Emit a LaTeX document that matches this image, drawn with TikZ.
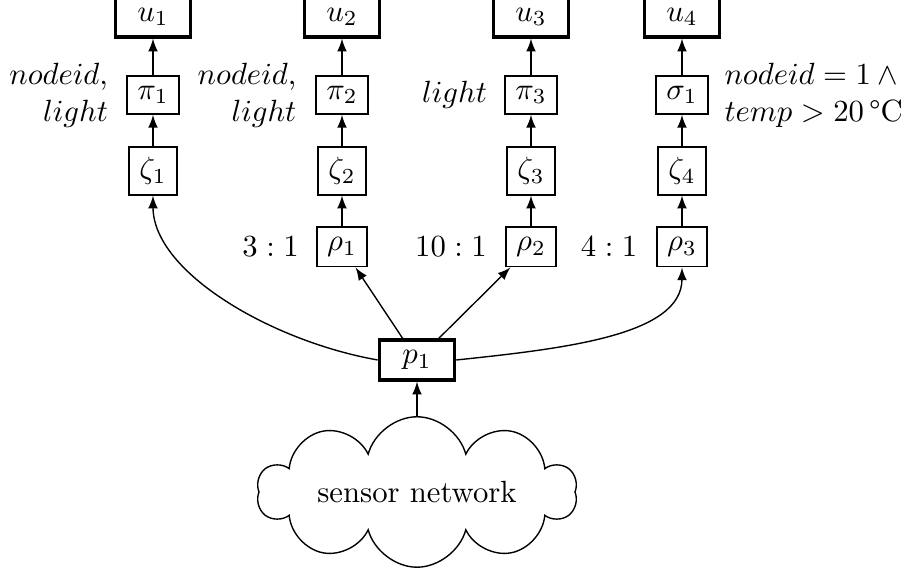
\documentclass[tikz,border=0pt]{standalone}
\usetikzlibrary{shapes.symbols,arrows}
\begin{document}
\begin{tikzpicture}[x=0.3257pt,y=-0.3257pt,>=latex,
  opbox/.style={draw,line width=0.45pt,inner sep=3.33pt},
  endbox/.style={draw,line width=1.1pt,minimum width=24.5pt,minimum height=13pt,inner sep=3.33pt},
  flow/.style={->,line width=0.45pt},
  lab/.style={inner sep=0pt}]
\useasboundingbox (0,0) rectangle (907,574);

% sinks
\node[endbox] (u1) at (153,17) {$u_1$};
\node[endbox] (u2) at (342,17) {$u_2$};
\node[endbox] (u3) at (531,17) {$u_3$};
\node[endbox] (u4) at (682,17) {$u_4$};

% operator chains
\node[opbox] (pi1) at (153,95) {$\pi_1$};
\node[opbox] (z1)  at (153,171) {$\zeta_1$};

\node[opbox] (pi2) at (342,95) {$\pi_2$};
\node[opbox] (z2)  at (342,171) {$\zeta_2$};
\node[opbox] (r1)  at (342,247) {$\rho_1$};

\node[opbox] (pi3) at (531,95) {$\pi_3$};
\node[opbox] (z3)  at (531,171) {$\zeta_3$};
\node[opbox] (r2)  at (531,247) {$\rho_2$};

\node[opbox] (s1)  at (682,95) {$\sigma_1$};
\node[opbox] (z4)  at (682,171) {$\zeta_4$};
\node[opbox] (r3)  at (682,247) {$\rho_3$};

% source and network
\node[endbox] (p1) at (417,360) {$p_1$};
\node[cloud,draw,cloud puffs=10,cloud ignores aspect,minimum width=104pt,minimum height=49pt,line width=0.45pt] (net) at (417,492) {sensor network};

% operator parameters
\node[lab,anchor=east,align=right] (l1) at ([xshift=-5.8pt]pi1.west) {$nodeid$,\\$light$};
\node[lab,anchor=east,align=right] (l2) at ([xshift=-6pt]pi2.west) {$nodeid$,\\$light$};
\node[lab,anchor=east] (l3) at ([xshift=-5.5pt]pi3.west) {$light$};
\node[lab,anchor=west,align=left] (l4) at ([xshift=5pt]s1.east) {$nodeid = 1 \wedge{}$\\$temp > 20\,\mbox{\textdegree C}$};
\node[lab,anchor=east] (q1) at ([xshift=-5.5pt]r1.west) {$3:1$};
\node[lab,anchor=east] (q2) at ([xshift=-5.8pt]r2.west) {$10:1$};
\node[lab,anchor=east] (q3) at ([xshift=-6pt]r3.west) {$4:1$};

% data flow
\draw[flow] (pi1) -- (u1);
\draw[flow] (z1) -- (pi1);
\draw[flow] (pi2) -- (u2);
\draw[flow] (z2) -- (pi2);
\draw[flow] (r1) -- (z2);
\draw[flow] (pi3) -- (u3);
\draw[flow] (z3) -- (pi3);
\draw[flow] (r2) -- (z3);
\draw[flow] (s1) -- (u4);
\draw[flow] (z4) -- (s1);
\draw[flow] (r3) -- (z4);

\draw[flow] (net) -- (p1);
\draw[flow] (p1) -- (r1);
\draw[flow] (p1) -- (r2);
\draw[flow] (p1.west) to[out=170,in=-90,out distance=35pt,in distance=25pt] (z1.south);
\draw[flow] (p1.east) to[out=6,in=-90,out distance=36pt,in distance=22pt] (r3.south);
\end{tikzpicture}
\end{document}
